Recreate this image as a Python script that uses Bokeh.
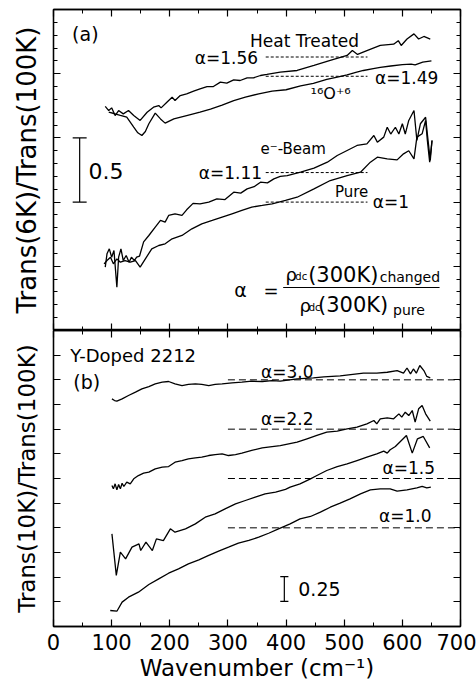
from bokeh.plotting import figure
from bokeh.models import Label, LinearAxis, SingleIntervalTicker, Range1d
from bokeh.layouts import column
from bokeh.embed import file_html
from bokeh.resources import INLINE

FONT = "DejaVu Sans"

# ---------------- Panel (a): Trans(6K)/Trans(100K) ----------------
heat_w = [89, 95, 100, 106, 112, 120, 129, 138, 149, 161, 172, 181, 185, 195, 204, 209, 218, 229, 241,
          252, 264, 275, 287, 298, 310, 321, 333, 344, 356, 367, 390, 419, 448, 476, 505, 514, 523, 539,
          562, 585, 593, 598, 608, 620, 628, 637, 648]
heat_y = [1.745, 1.713, 1.734, 1.674, 1.713, 1.687, 1.713, 1.674, 1.636, 1.700, 1.739, 1.752, 1.734, 1.778,
          1.817, 1.791, 1.830, 1.843, 1.864, 1.882, 1.900, 1.900, 1.934, 1.926, 1.952, 1.947, 1.968, 1.968,
          1.986, 1.994, 2.012, 2.025, 2.064, 2.103, 2.142, 2.18, 2.15, 2.18, 2.22, 2.23, 2.257, 2.22, 2.27,
          2.31, 2.27, 2.29, 2.27]

o16_w = [95, 104, 115, 126, 138, 145, 152, 158, 164, 175, 184, 192, 207, 229, 252, 270, 290, 310, 330, 353,
         376, 400, 425, 447, 470, 490, 505, 520, 533, 550, 562, 580, 600, 615, 622, 635, 650]
o16_y = [1.70, 1.69, 1.675, 1.661, 1.584, 1.54, 1.519, 1.55, 1.610, 1.693, 1.648, 1.615, 1.648, 1.674, 1.700,
         1.725, 1.755, 1.791, 1.817, 1.843, 1.864, 1.875, 1.905, 1.925, 1.955, 1.975, 1.990, 2.010, 2.025,
         2.040, 2.050, 2.060, 2.070, 2.075, 2.068, 2.09, 2.10]

ebeam_w = [89, 92, 96, 100, 104, 109, 112, 116, 120, 125, 130, 134, 139, 143, 148, 155, 164, 175, 184, 192,
           198, 209, 221, 229, 240, 252, 267, 281, 295, 310, 322, 333, 345, 356, 368, 379, 390, 402, 425,
           448, 471, 488, 505, 522, 539, 551, 557, 568, 574, 580, 588, 594, 600, 605, 611, 620, 625, 631,
           640, 643, 648, 651]
ebeam_y = [0.493, 0.597, 0.636, 0.571, 0.623, 0.337, 0.571, 0.636, 0.545, 0.584, 0.532, 0.571, 0.545, 0.571,
           0.58, 0.69, 0.740, 0.805, 0.857, 0.844, 0.896, 0.909, 0.896, 0.94, 0.99, 0.986, 1.0, 1.025, 1.02,
           1.077, 1.07, 1.103, 1.12, 1.155, 1.15, 1.181, 1.20, 1.207, 1.233, 1.265, 1.311, 1.363, 1.402,
           1.441, 1.454, 1.519, 1.467, 1.506, 1.583, 1.530, 1.583, 1.53, 1.61, 1.53, 1.636, 1.713, 1.48,
           1.61, 1.661, 1.53, 1.324, 1.48]

pure_w = [87, 92, 98, 103, 109, 115, 123, 132, 141, 149, 158, 169, 181, 192, 204, 221, 238, 255, 273, 290,
          307, 324, 341, 359, 376, 399, 419, 448, 476, 505, 528, 545, 557, 574, 591, 602, 611, 620, 625,
          634, 640, 643, 647, 651]
pure_y = [0.519, 0.545, 0.571, 0.519, 0.558, 0.532, 0.545, 0.532, 0.545, 0.493, 0.558, 0.636, 0.662, 0.675,
          0.714, 0.740, 0.792, 0.831, 0.857, 0.883, 0.909, 0.935, 0.961, 0.974, 0.987, 1.013, 1.038, 1.103,
          1.168, 1.207, 1.233, 1.311, 1.350, 1.337, 1.329, 1.376, 1.40, 1.337, 1.506, 1.532, 1.636, 1.48,
          1.311, 1.48]

ref_a_levels = [2.13, 1.98, 1.23, 1.0]
ref_a_x0, ref_a_x1 = 365, 540

# ---------------- Panel (b): Trans(10K)/Trans(100K) ----------------
b30_w = [100.5, 105, 109, 118, 129, 141, 152, 164, 175, 187, 198, 209, 221, 232, 244, 255, 267, 278, 290,
         307, 324, 341, 359, 376, 390, 419, 447, 465, 493, 533, 556, 574, 591, 602, 608, 614, 619, 624,
         630, 637, 642, 648]
b30_y = [2.307, 2.29, 2.284, 2.307, 2.341, 2.375, 2.409, 2.432, 2.459, 2.476, 2.483, 2.459, 2.442, 2.453,
         2.459, 2.453, 2.442, 2.453, 2.459, 2.469, 2.476, 2.486, 2.483, 2.493, 2.486, 2.51, 2.52, 2.53, 2.54,
         2.567, 2.567, 2.577, 2.594, 2.567, 2.62, 2.56, 2.61, 2.567, 2.645, 2.594, 2.534, 2.52]

b22_w = [100.5, 103, 106, 109, 112, 115, 118, 121, 126, 132, 138, 146, 155, 164, 175, 187, 198, 209, 221,
         232, 244, 255, 267, 278, 290, 301, 313, 324, 341, 359, 376, 390, 419, 436, 453, 470, 488, 505,
         522, 539, 551, 556, 562, 574, 585, 594, 599, 605, 611, 617, 622, 628, 634, 640, 648]
b22_y = [1.429, 1.395, 1.446, 1.385, 1.439, 1.395, 1.452, 1.419, 1.463, 1.446, 1.497, 1.530, 1.554, 1.564,
         1.598, 1.615, 1.621, 1.665, 1.682, 1.699, 1.709, 1.716, 1.733, 1.743, 1.750, 1.733, 1.743, 1.757,
         1.784, 1.811, 1.824, 1.834, 1.868, 1.902, 1.936, 1.970, 1.980, 2.003, 2.020, 2.054, 2.088, 2.054,
         2.105, 2.115, 2.105, 2.155, 2.122, 2.172, 2.138, 2.189, 2.071, 2.206, 2.240, 2.155, 2.081]

b15_w = [100.5, 108, 115, 124, 135, 147, 150, 159, 170, 177, 189, 201, 209, 227, 244, 261, 278, 296, 313,
         330, 347, 364, 382, 399, 407, 424, 442, 453, 470, 488, 505, 522, 539, 556, 568, 574, 579, 588,
         607, 617, 626, 636, 647]
b15_y = [0.939, 0.518, 0.753, 0.686, 0.804, 0.838, 0.77, 0.855, 0.770, 0.888, 0.871, 0.99, 0.956, 0.990,
         1.040, 1.108, 1.142, 1.195, 1.243, 1.277, 1.311, 1.345, 1.362, 1.390, 1.412, 1.446, 1.497, 1.530,
         1.581, 1.621, 1.648, 1.682, 1.716, 1.750, 1.777, 1.757, 1.791, 1.824, 1.936, 1.757, 1.902, 1.926,
         1.811]

b10_w = [97.6, 109, 118, 129, 146, 164, 181, 198, 215, 232, 250, 267, 284, 301, 318, 336, 353, 370, 387,
         399, 407, 424, 442, 459, 476, 493, 510, 528, 545, 562, 579, 591, 608, 625, 634, 642, 649]
b10_y = [0.162, 0.155, 0.247, 0.297, 0.348, 0.426, 0.483, 0.540, 0.584, 0.635, 0.676, 0.720, 0.764, 0.804,
         0.845, 0.872, 0.905, 0.945, 0.990, 1.020, 1.040, 1.091, 1.115, 1.159, 1.209, 1.250, 1.294, 1.345,
         1.385, 1.395, 1.395, 1.372, 1.385, 1.405, 1.419, 1.405, 1.412]

ref_b_levels = [2.5, 2.0, 1.5, 1.0]
ref_b_x0, ref_b_x1 = 300, 700

x_ticks_major = 100
SCALE_A = 0.5
SCALE_B = 0.25


def style_axis(ax, minor=True, labels=False):
    ax.axis_line_color = "black"
    ax.axis_line_width = 1.3
    ax.major_tick_line_color = "black"
    ax.minor_tick_line_color = "black"
    ax.major_tick_line_width = 1.2
    ax.minor_tick_line_width = 1.0
    ax.major_tick_in = 7
    ax.major_tick_out = 0
    ax.minor_tick_in = 4 if minor else 0
    ax.minor_tick_out = 0
    if not labels:
        ax.major_label_text_font_size = "0px"
        ax.major_label_standoff = 0


def make_fig(frame_h, ymax, yint, yminor, top_border, bottom_border, ylabel, ylabel_size, ylabel_standoff):
    p = figure(frame_width=407, frame_height=frame_h, x_range=Range1d(0, 700), y_range=Range1d(0, ymax),
               output_backend="svg", toolbar_location=None,
               min_border_left=53, min_border_right=16, min_border_top=top_border,
               min_border_bottom=bottom_border)
    p.xgrid.visible = False
    p.ygrid.visible = False
    p.outline_line_color = "black"
    p.outline_line_width = 1.3
    p.background_fill_color = "white"
    p.border_fill_color = "white"
    xt = SingleIntervalTicker(interval=x_ticks_major, num_minor_ticks=2)
    yt = SingleIntervalTicker(interval=yint, num_minor_ticks=yminor)
    bottom = p.below[0]
    bottom.ticker = xt
    style_axis(bottom)
    left = p.left[0]
    left.ticker = yt
    style_axis(left, minor=yminor > 0)
    left.axis_label = ylabel
    left.axis_label_text_font = FONT
    left.axis_label_text_font_size = f"{ylabel_size}px"
    left.axis_label_text_font_style = "normal"
    left.axis_label_text_color = "black"
    left.axis_label_standoff = ylabel_standoff
    top = LinearAxis(ticker=xt)
    style_axis(top)
    p.add_layout(top, "above")
    right = LinearAxis(ticker=yt)
    style_axis(right, minor=yminor > 0)
    p.add_layout(right, "right")
    return p


def add_label(p, x, y, text, size, align="left", baseline="middle"):
    p.add_layout(Label(x=x, y=y, text=text, text_font=FONT, text_font_size=f"{size}px",
                       text_color="black", text_align=align, text_baseline=baseline))


# ---------- panel a ----------
p1 = make_fig(321, 2.5, 0.5, 5, 9, 0, "Trans(6K)/Trans(100K)", 26, 12)
for xs, ys in [(heat_w, heat_y), (o16_w, o16_y), (ebeam_w, ebeam_y), (pure_w, pure_y)]:
    p1.line(xs, ys, line_color="black", line_width=1.3)
p1.segment(x0=[ref_a_x0] * 4, x1=[ref_a_x1] * 4, y0=ref_a_levels, y1=ref_a_levels,
           line_color="black", line_width=1, line_dash="3 2")
# scale bar 0.5
sa_x, sa_y0 = 45, 1.0
p1.segment(x0=[sa_x, sa_x - 12, sa_x - 12], x1=[sa_x, sa_x + 12, sa_x + 12],
           y0=[sa_y0, sa_y0, sa_y0 + SCALE_A], y1=[sa_y0 + SCALE_A, sa_y0, sa_y0 + SCALE_A],
           line_color="black", line_width=1.2)
add_label(p1, 60, 1.246, "0.5", 22)
add_label(p1, 32, 2.313, "(a)", 19)
add_label(p1, 338, 2.251, "Heat Treated", 17)
add_label(p1, 243, 2.126, "α=1.56", 17)
add_label(p1, 553, 1.970, "α=1.49", 17)
add_label(p1, 442, 1.846, "¹⁶O⁺⁶", 16)
add_label(p1, 356, 1.417, "e⁻-Beam", 15)
add_label(p1, 250, 1.230, "α=1.11", 17)
add_label(p1, 484, 1.075, "Pure", 15)
add_label(p1, 549, 0.997, "α=1", 17)
# formula
add_label(p1, 311, 0.319, "α", 19)
add_label(p1, 361, 0.312, "=", 18)
add_label(p1, 399, 0.436, "ρ", 18, baseline="alphabetic")
add_label(p1, 416, 0.421, "dc", 10, baseline="alphabetic")
add_label(p1, 438, 0.436, "(300K)", 21, baseline="alphabetic")
add_label(p1, 561, 0.413, "changed", 14, baseline="alphabetic")
p1.segment(x0=[395], x1=[664], y0=[0.335], y1=[0.335], line_color="black", line_width=1.2)
add_label(p1, 423, 0.195, "ρ", 18, baseline="alphabetic")
add_label(p1, 439, 0.179, "dc", 10, baseline="alphabetic")
add_label(p1, 455, 0.195, "(300K)", 21, baseline="alphabetic")
add_label(p1, 584, 0.156, "pure", 14, baseline="alphabetic")

# ---------- panel b ----------
p2 = make_fig(296, 3.0, 0.25, 0, 0, 62, "Trans(10K)/Trans(100K)", 23, 14)
xb = p2.below[0]
xb.major_label_text_font = FONT
xb.major_label_text_font_size = "21px"
xb.major_label_text_color = "black"
xb.major_label_standoff = 7
xb.axis_label = "Wavenumber (cm⁻¹)"
xb.axis_label_text_font = FONT
xb.axis_label_text_font_size = "23px"
xb.axis_label_text_font_style = "normal"
xb.axis_label_text_color = "black"
xb.axis_label_standoff = 2
for xs, ys in [(b30_w, b30_y), (b22_w, b22_y), (b15_w, b15_y), (b10_w, b10_y)]:
    p2.line(xs, ys, line_color="black", line_width=1.3)
p2.segment(x0=[ref_b_x0] * 4, x1=[ref_b_x1] * 4, y0=ref_b_levels, y1=ref_b_levels,
           line_color="black", line_width=1, line_dash="7 4")
sb_x, sb_y0 = 397, 0.255
p2.segment(x0=[sb_x, sb_x - 7, sb_x - 7], x1=[sb_x, sb_x + 7, sb_x + 7],
           y0=[sb_y0, sb_y0, sb_y0 + SCALE_B], y1=[sb_y0 + SCALE_B, sb_y0, sb_y0 + SCALE_B],
           line_color="black", line_width=1.2)
add_label(p2, 421, 0.385, "0.25", 19)
add_label(p2, 29, 2.747, "Y-Doped 2212", 18)
add_label(p2, 34, 2.473, "(b)", 19)
add_label(p2, 357, 2.584, "α=3.0", 17)
add_label(p2, 357, 2.098, "α=2.2", 17)
add_label(p2, 566, 1.611, "α=1.5", 17)
add_label(p2, 560, 1.125, "α=1.0", 17)

layout = column(p1, p2)
open("out.html", "w").write(file_html(layout, INLINE))
